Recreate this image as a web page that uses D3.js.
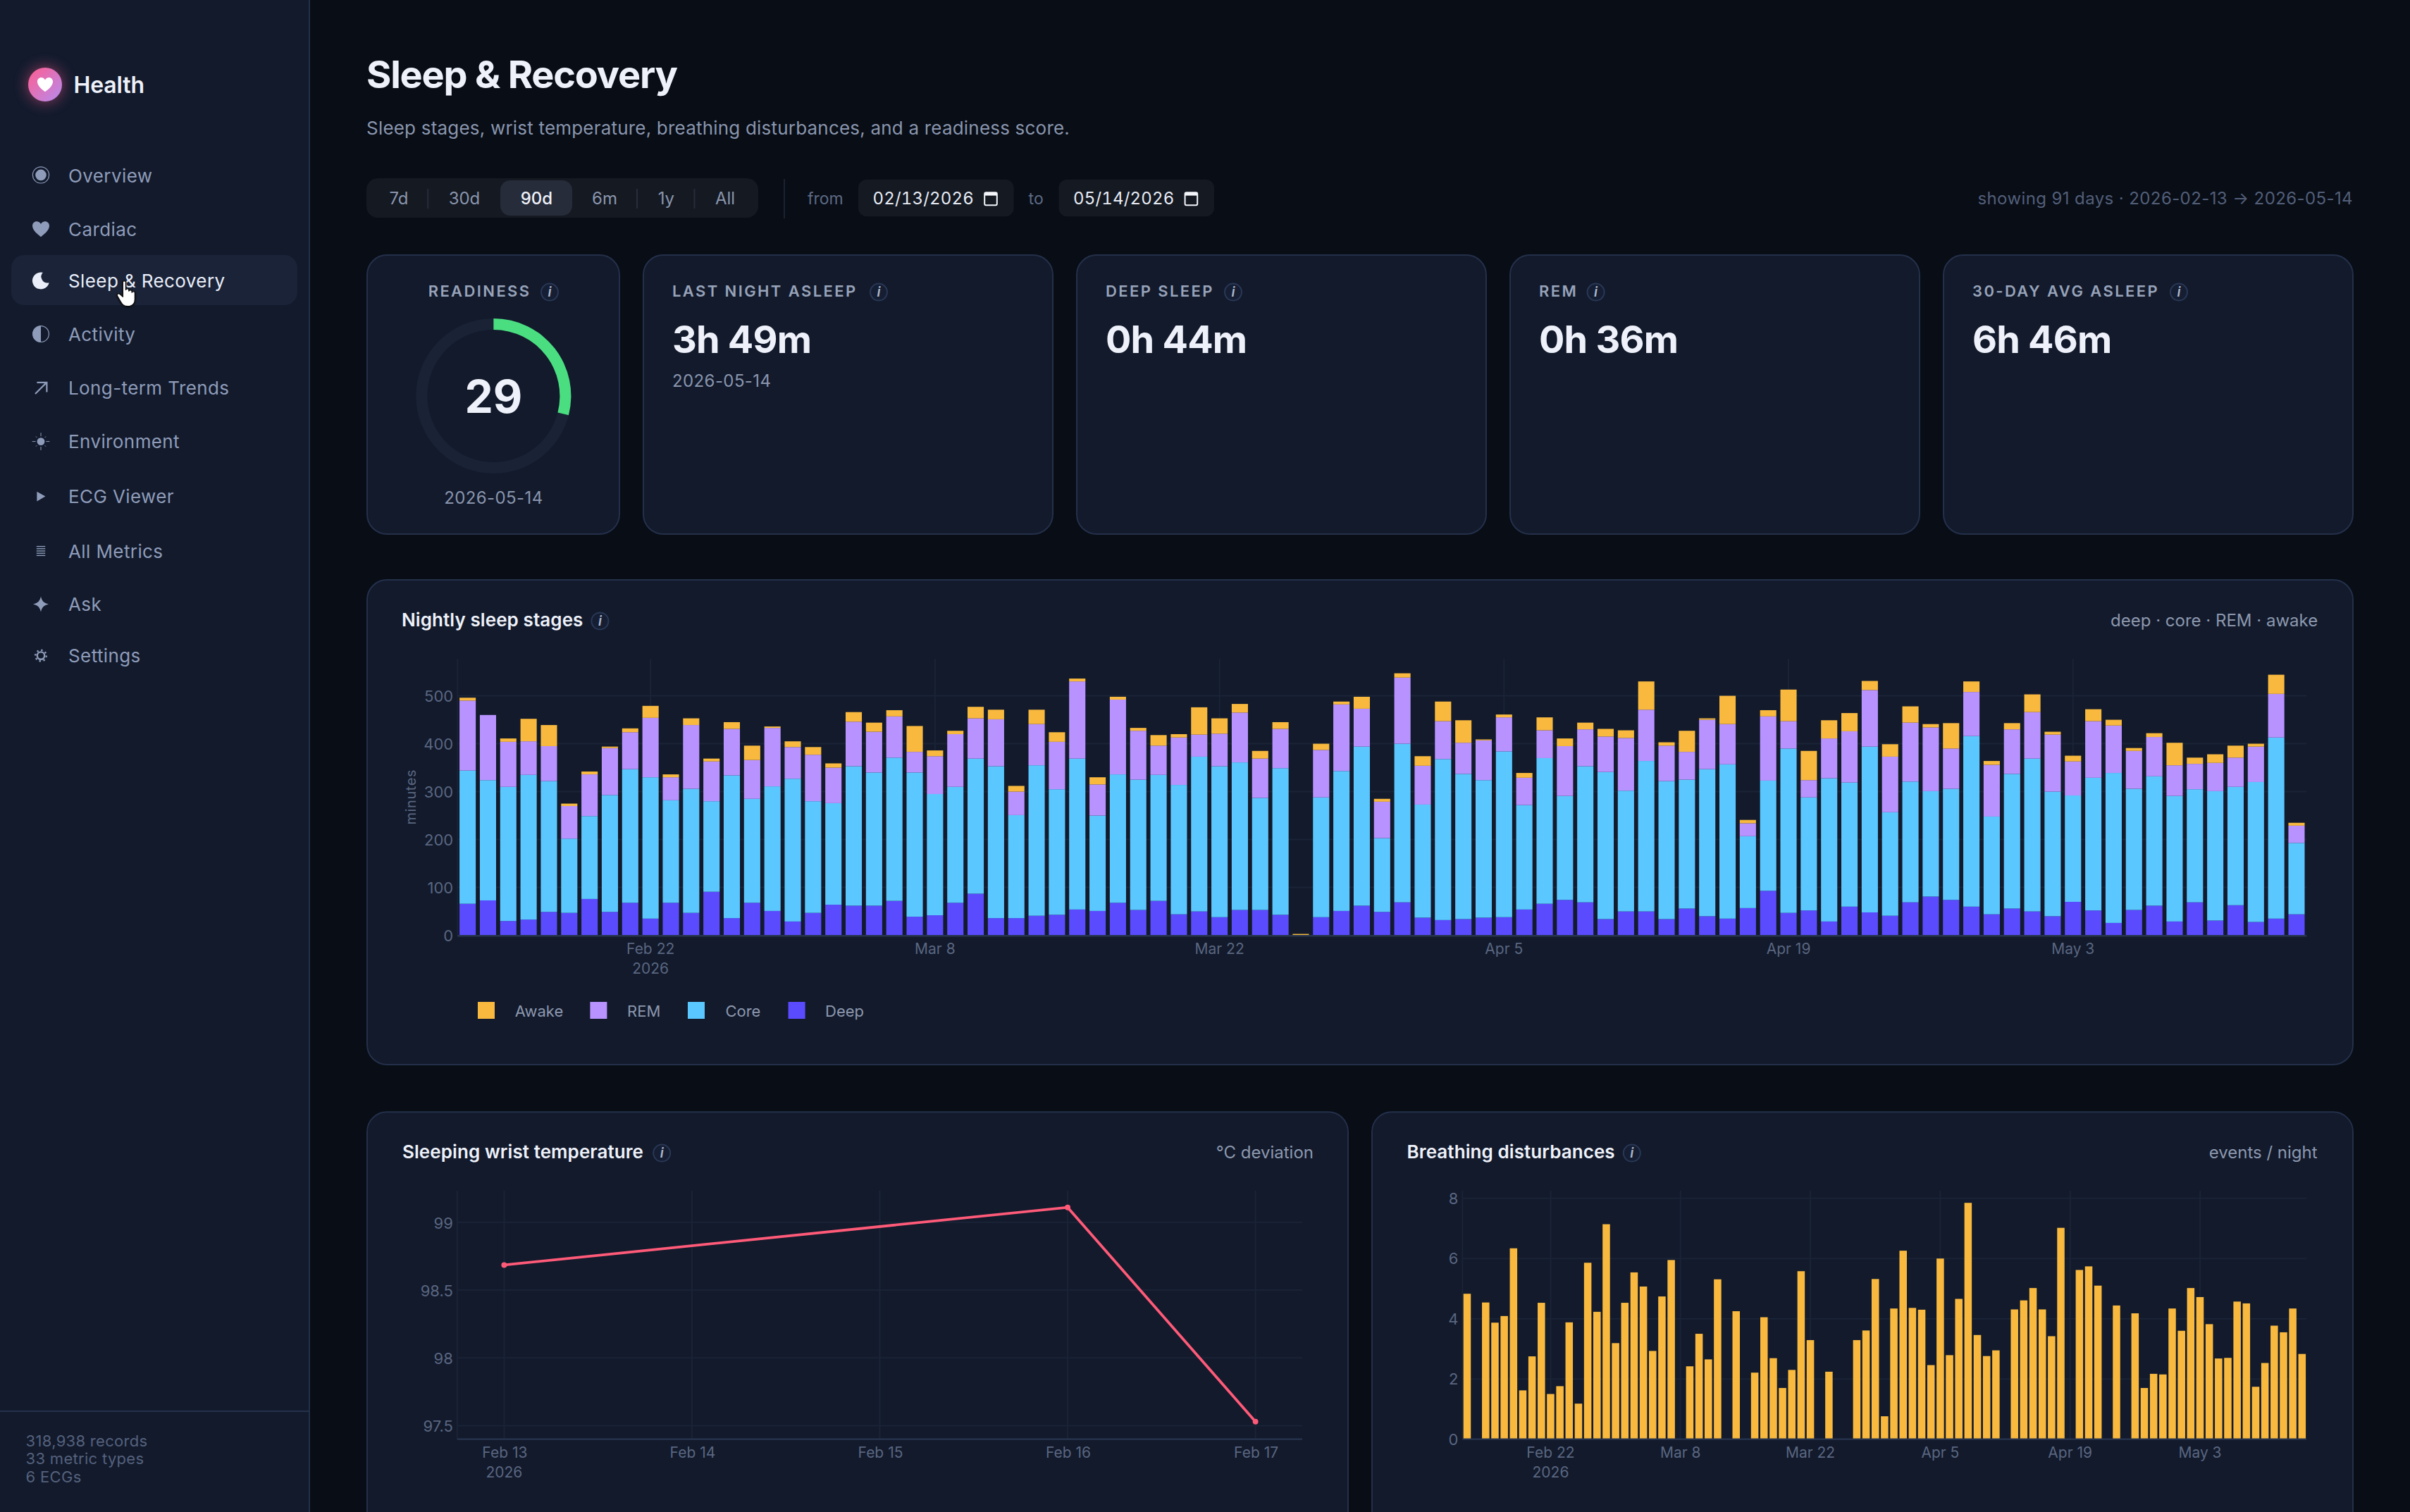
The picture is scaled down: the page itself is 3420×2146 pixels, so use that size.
<!DOCTYPE html>
<html><head><meta charset="utf-8"><title>Sleep &amp; Recovery</title>
<script src="https://cdn.jsdelivr.net/npm/d3@7"></script>
<style>html,body{margin:0;padding:0;background:#080d16;overflow:hidden}svg{display:block}text{font-family:Inter,"Noto Sans",sans-serif}</style>
</head><body>
<div id="root"></div>
<script>
// ---------- data ----------
const deep=[66,73,30,33,49,47,76,49,68,35,68,47,91,36,68,51,29,47,64,62,62,72,39,42,68,87,36,36,41,43,54,51,68,53,72,44,50,38,53,53,43,0,38,51,62,49,69,37,32,34,37,38,54,66,74,69,34,50,50,34,56,40,35,57,93,47,52,29,60,48,41,69,81,74,60,44,56,50,40,70,52,26,53,62,29,69,31,63,28,35,44];
const core=[278,251,280,302,273,155,173,244,279,295,214,259,189,298,217,260,298,233,212,291,278,299,301,253,242,282,317,215,314,262,315,199,268,272,263,270,323,315,308,234,306,0,250,292,332,154,331,236,336,303,287,346,218,304,217,284,307,252,314,288,269,307,322,150,230,343,236,299,259,346,216,252,220,232,356,204,281,319,260,222,277,313,253,270,262,236,270,247,292,378,149];
const rem=[146,136,94,70,73,68,87,98,77,124,48,133,83,97,81,122,66,97,74,93,85,86,43,79,110,84,98,49,86,99,161,65,156,102,61,99,46,68,104,82,82,0,99,139,79,76,138,81,79,65,83,71,57,58,104,77,74,110,107,74,58,103,84,27,134,57,36,83,107,118,116,123,133,84,92,108,93,97,119,71,118,99,79,82,64,53,59,61,74,91,36];
const awake=[6,0,7,47,44,5,6,3,8,25,6,14,6,14,30,3,12,16,9,20,19,13,54,12,7,24,20,12,30,20,6,15,6,6,22,7,57,32,18,16,14,3,13,6,25,6,9,20,41,47,2,6,10,27,16,14,16,16,59,7,44,3,59,7,13,66,61,38,38,19,26,34,7,53,22,8,13,37,6,12,25,12,6,8,47,13,18,25,6,40,6];
const breathing=[4.83,null,4.54,3.87,4.09,6.34,1.62,2.75,4.53,1.50,1.76,3.88,1.18,5.86,4.23,7.14,3.19,4.53,5.54,5.07,2.93,4.74,5.95,null,2.42,3.50,2.65,5.31,null,4.25,null,2.21,4.05,2.69,1.70,2.30,5.58,3.29,null,2.24,null,null,3.29,3.61,5.32,0.76,4.34,6.26,4.36,4.30,2.46,6.00,2.79,4.66,7.85,3.46,2.76,2.95,null,4.31,4.61,5.02,4.31,3.42,7.02,null,5.62,5.74,5.10,null,4.44,null,4.18,1.70,2.17,2.15,4.34,3.60,5.02,4.72,3.82,2.68,2.70,4.57,4.51,1.74,2.53,3.77,3.55,4.34,2.83];
const tempDates=["2026-02-13","2026-02-16","2026-02-17"];
const tempValues=[98.685,99.11,97.53];
const tempTickDates=["2026-02-13","2026-02-14","2026-02-15","2026-02-16","2026-02-17"];
const tempYTicks=[97.5,98,98.5,99];
const stageYTicks=[0,100,200,300,400,500];
const breathYTicks=[0,2,4,6,8];
const longTickDates=["2026-02-22","2026-03-08","2026-03-22","2026-04-05","2026-04-19","2026-05-03"];
const stageKeys=["deep","core","rem","awake"];
const stageColors=["#5b4bff","#5ac8ff","#b893ff","#f8b93e"];
const legendNames=["Awake","REM","Core","Deep"];
const legendColors=["#f8b93e","#b893ff","#5ac8ff","#5b4bff"];
const navLabels=["Overview","Cardiac","Sleep & Recovery","Activity","Long-term Trends","Environment","ECG Viewer","All Metrics","Ask","Settings"];
const rangeLabels=["7d","30d","90d","6m","1y","All"];
const kpiLabels=["LAST NIGHT ASLEEP","DEEP SLEEP","REM","30-DAY AVG ASLEEP"];
const kpiValues=["3h 49m","0h 44m","0h 36m","6h 46m"];
const readiness=29;

// ---------- palette ----------
const C={bg:"#080d16",panel:"#121a2c",border:"#24304a",grid:"#1a2436",axis:"#28354f",txt:"#eef1f9",nav:"#8f9cb9",mut:"#8d98ae",dim:"#5a6680"};

const svg=d3.select("#root").append("svg").attr("width",3420).attr("height",2146).attr("viewBox","0 0 1710 1073");
const defs=svg.append("defs");
const lg=defs.append("linearGradient").attr("id","logo").attr("x1",0).attr("y1",0).attr("x2",1).attr("y2",1);
lg.append("stop").attr("offset",0).attr("stop-color","#ff5d8f");
lg.append("stop").attr("offset",1).attr("stop-color","#b58cf0");
const glow=defs.append("filter").attr("id","glow").attr("x","-100%").attr("y","-100%").attr("width","300%").attr("height","300%");
glow.append("feGaussianBlur").attr("stdDeviation",5);
const shadow=defs.append("filter").attr("id","hs").attr("x","-50%").attr("y","-50%").attr("width","200%").attr("height","200%");
shadow.append("feDropShadow").attr("dx",0).attr("dy",0.6).attr("stdDeviation",0.8).attr("flood-color","#000").attr("flood-opacity",0.6);

function T(g,x,y,s,o={}){return g.append("text").attr("x",x).attr("y",y).text(s)
  .attr("font-size",o.size||12).attr("font-weight",o.weight||400).attr("fill",o.fill||C.mut)
  .attr("text-anchor",o.anchor||"start").attr("letter-spacing",o.ls||null).attr("font-family",o.family||null);}
function R(g,x,y,w,h,rx,fill,stroke){return g.append("rect").attr("x",x).attr("y",y).attr("width",w).attr("height",h).attr("rx",rx).attr("fill",fill).attr("stroke",stroke||"none");}
function info(g,cx,cy){g.append("circle").attr("cx",cx).attr("cy",cy).attr("r",6).attr("fill","#151e33").attr("stroke","#2a3856").attr("stroke-width",1);
  T(g,cx,cy+3.4,"i",{size:9.5,weight:600,anchor:"middle",fill:"#aeb8cc"}).attr("font-style","italic");}

svg.append("rect").attr("width",1710).attr("height",1073).attr("fill",C.bg);

// ---------- sidebar ----------
const side=svg.append("g");
side.append("rect").attr("width",220).attr("height",1073).attr("fill",C.panel);
side.append("line").attr("x1",219.5).attr("x2",219.5).attr("y1",0).attr("y2",1073).attr("stroke",C.border);
side.append("line").attr("x1",0).attr("x2",219).attr("y1",1001.5).attr("y2",1001.5).attr("stroke",C.border);
side.append("circle").attr("cx",32).attr("cy",60).attr("r",13).attr("fill","#ff5d8f").attr("opacity",0.45).attr("filter","url(#glow)");
side.append("circle").attr("cx",32).attr("cy",60).attr("r",12).attr("fill","url(#logo)");
const HEART="M0 5.6C-1.6 4.3-6 1.3-6-2.2C-6-4.2-4.5-5.4-3-5.4C-1.8-5.4-.6-4.8 0-3.5C.6-4.8 1.8-5.4 3-5.4C4.5-5.4 6-4.2 6-2.2C6 1.3 1.6 4.3 0 5.6Z";
side.append("path").attr("d",HEART).attr("transform","translate(32,60) scale(.92)").attr("fill","#fff");
T(side,52.3,66.2,"Health",{size:16,weight:600,fill:C.txt,ls:-.08});
R(side,8,181,203,35.5,9,"#1a2338");
const navBase=[129.5,167.3,204,241.9,279.8,317.8,357,395.8,433.3,470];
const navCy=[124.2,162.5,199.2,237,275.3,313.3,352.3,391,428.7,465.3];
navLabels.forEach((s,i)=>{
  const active=i===2, col=active?"#e9eef9":C.nav;
  T(side,48.5,navBase[i],s,{size:13,weight:400,fill:col,ls:.2});
  const g=side.append("g").attr("transform",`translate(29,${navCy[i]})`);
  if(i===0){g.append("circle").attr("r",5.8).attr("fill","none").attr("stroke",col).attr("stroke-width",.6);g.append("circle").attr("r",3.9).attr("fill",col);}
  if(i===1){g.append("path").attr("d",HEART).attr("fill",col);}
  if(i===2){g.append("path").attr("d","M1.4-5.8A6 6 0 1 0 5.8 1.4A4.4 4.4 0 0 1 1.4-5.8Z").attr("fill",col);}
  if(i===3){g.append("circle").attr("r",5.7).attr("fill","none").attr("stroke",col).attr("stroke-width",.6);g.append("path").attr("d","M0-5.8A5.8 5.8 0 0 0 0 5.8Z").attr("fill",col);}
  if(i===4){g.append("path").attr("d","M-4 4.2L3.8-3.6M-2.8-3.9H4.2V3").attr("fill","none").attr("stroke",col).attr("stroke-width",1.1);}
  if(i===5){g.append("circle").attr("r",2.7).attr("fill",col);
    d3.range(8).forEach(k=>{const a=k*Math.PI/4,r0=k%2?4:3.7,r1=k%2?5:6.2;g.append("line").attr("x1",r0*Math.cos(a)).attr("y1",r0*Math.sin(a)).attr("x2",r1*Math.cos(a)).attr("y2",r1*Math.sin(a)).attr("stroke",col).attr("stroke-width",.5);});}
  if(i===6){g.append("path").attr("d","M-2.8-3.4L3.2 0L-2.8 3.4Z").attr("fill",col);}
  if(i===7){[-3.2,-1.6,0,1.6,3.2].forEach(d=>g.append("line").attr("x1",-3.1).attr("x2",3.1).attr("y1",d).attr("y2",d).attr("stroke",col).attr("stroke-width",.7));}
  if(i===8){g.append("path").attr("d","M0-5.5C.9-2 2-.9 5.5 0C2 .9.9 2 0 5.5C-.9 2-2 .9-5.5 0C-2-.9-.9-2 0-5.5Z").attr("fill",col);}
  if(i===9){g.append("circle").attr("r",2.6).attr("fill","none").attr("stroke",col).attr("stroke-width",1.2);g.append("circle").attr("r",3.9).attr("fill","none").attr("stroke",col).attr("stroke-width",1.2).attr("stroke-dasharray","1.2 1.86");}
});
["318,938 records","33 metric types","6 ECGs"].forEach((s,i)=>T(side,18.3,[1026.3,1039,1052][i],s,{size:11,fill:"#55617c",ls:.15}));

// ---------- header ----------
const head=svg.append("g");
T(head,260,62.5,"Sleep & Recovery",{size:27,weight:700,fill:C.txt,ls:-.6});
T(head,260,95.7,"Sleep stages, wrist temperature, breathing disturbances, and a readiness score.",{size:13,fill:"#8a95ad",ls:.1});
R(head,260,126.5,278,28,8,"#141922");
R(head,355,128,51,25,7,"#272c3a");
const segCx=[283,329.5,380.7,429,472.7,514.5];
rangeLabels.forEach((s,i)=>T(head,segCx[i],145,s,{size:12,anchor:"middle",weight:i===2?500:400,fill:i===2?"#eef1f9":"#8a95ad"}));
[303.6,452,492.7].forEach(x=>head.append("line").attr("x1",x).attr("x2",x).attr("y1",134).attr("y2",148).attr("stroke","#262c3a"));
head.append("line").attr("x1",556.5).attr("x2",556.5).attr("y1",127).attr("y2",155).attr("stroke","#1c2330");
T(head,573,145,"from",{size:11.5,fill:"#5e6a84"});
T(head,729.8,145,"to",{size:11.5,fill:"#5e6a84"});
[[609,"02/13/2026"],[751.2,"05/14/2026"]].forEach(([x,s])=>{
  R(head,x,127.4,110.3,26.2,6,"#141922");
  T(head,x+10.3,145,s,{size:12,fill:"#e8ecf5",ls:.08}).style("font-variant-numeric","tabular-nums");
  const cx=x+94;
  R(head,cx-4.4,136.6,8.8,9,1,"none","#f3f5fa").attr("stroke-width",1);
  head.append("rect").attr("x",cx-4.4).attr("y",136.6).attr("width",8.8).attr("height",2.2).attr("fill","#f3f5fa");
});
T(head,1669.5,144.8,"showing 91 days · 2026-02-13 → 2026-05-14",{size:12,anchor:"end",fill:"#535f79",ls:.2});

// ---------- KPI cards ----------
const kpi=svg.append("g");
R(kpi,260.5,181,179,198,14,C.panel,C.border);
T(kpi,340.3,210.6,"READINESS",{size:11,weight:600,anchor:"middle",fill:"#98a3b9",ls:1.2});
info(kpi,390,207.3);
const gauge=kpi.append("g").attr("transform","translate(350.2,281)");
const arc=d3.arc().innerRadius(47).outerRadius(55).startAngle(0);
gauge.append("path").attr("d",arc({endAngle:2*Math.PI})).attr("fill","#1a2336");
gauge.append("path").attr("d",arc({endAngle:2*Math.PI*readiness/100})).attr("fill","#4ade80");
T(kpi,350.2,293,String(readiness),{size:32,weight:700,anchor:"middle",fill:C.txt});
T(kpi,350.2,357.7,"2026-05-14",{size:12,anchor:"middle",fill:"#8a95ad",ls:.2});
const kpiX=[456,763.5,1071,1378.5];
const kpiInfo=[623.5,875,1132.3,1546];
kpiLabels.forEach((s,i)=>{
  const x=kpiX[i];
  R(kpi,x+.5,181,290.5,198,14,C.panel,C.border);
  T(kpi,x+21,210.6,s,{size:11,weight:600,fill:"#98a3b9",ls:1.2});
  info(kpi,kpiInfo[i],207.3);
  T(kpi,x+21,250.6,kpiValues[i],{size:27,weight:700,fill:C.txt,ls:-.4});
});
T(kpi,477,274.7,"2026-05-14",{size:12,fill:"#8a95ad",ls:.2});

// ---------- panels ----------
function panel(x,y,w,h,title,infoX,right,rightX,titleX){
  const g=svg.append("g");
  R(g,x+.5,y+.5,w-1,h-1,14,C.panel,C.border);
  T(g,titleX,y+33.6,title,{size:13,weight:600,fill:"#eef1f9",ls:.04});
  info(g,infoX,y+29.7);
  T(g,rightX,y+33.3,right,{size:12,anchor:"end",fill:C.mut});
  return g;
}
function styleAxis(sel,size,fill){sel.select(".domain").remove();sel.selectAll("line").remove();
  sel.selectAll("text").attr("font-family","Inter").attr("font-size",size).attr("fill",fill);}
const parse=d3.utcParse("%Y-%m-%d");
const fmtMD=d3.utcFormat("%b %-d");
const days=d3.utcDay.range(parse("2026-02-13"),parse("2026-05-15"));

// nightly stages
{
  const g=panel(260,411,1410,345,"Nightly sleep stages",425.7,"deep · core · REM · awake",1644.6,285);
  const left=324.6,right=1636.7,top=467.6,base=663.8;
  const rows=days.map((d,i)=>({d,deep:deep[i],core:core[i],rem:rem[i],awake:awake[i]}));
  const x=d3.scaleBand().domain(days).range([left,right]).paddingInner(.2).paddingOuter(.1);
  const y=d3.scaleLinear().domain([0,577]).range([base,top]);
  const grid=g.append("g");
  grid.selectAll("line.h").data(stageYTicks.slice(1)).join("line").attr("x1",left).attr("x2",right).attr("y1",y).attr("y2",y).attr("stroke",C.grid);
  const lt=longTickDates.map(parse), cx=d=>x(d)+x.bandwidth()/2;
  grid.selectAll("line.v").data(lt).join("line").attr("x1",cx).attr("x2",cx).attr("y1",top).attr("y2",base).attr("stroke",C.grid);
  grid.append("line").attr("x1",left).attr("x2",left).attr("y1",top).attr("y2",base).attr("stroke",C.grid);
  const stack=d3.stack().keys(stageKeys)(rows);
  g.selectAll("g.s").data(stack).join("g").attr("fill",(d,i)=>stageColors[i])
    .selectAll("rect").data(d=>d).join("rect")
    .attr("x",d=>x(d.data.d)).attr("width",x.bandwidth())
    .attr("y",d=>y(d[1])).attr("height",d=>y(d[0])-y(d[1]));
  g.append("line").attr("x1",left).attr("x2",right).attr("y1",base+.3).attr("y2",base+.3).attr("stroke",C.axis).attr("stroke-width",1.2);
  const ay=g.append("g").attr("transform",`translate(${left-3},0)`).call(d3.axisLeft(y).tickValues(stageYTicks).tickSize(0).tickPadding(0));
  styleAxis(ay,11,C.dim); ay.selectAll("text").attr("dy","0.32em");
  const ax=g.append("g").attr("transform",`translate(0,${base+4})`).call(d3.axisBottom(x).tickValues(lt).tickSize(0).tickPadding(0).tickFormat(fmtMD));
  styleAxis(ax,10.5,C.dim); ax.selectAll("text").attr("y",9.2).attr("dy",0);
  T(g,cx(lt[0]),691,"2026",{size:10.5,anchor:"middle",fill:C.dim});
  g.append("text").attr("transform",`translate(295,565.6) rotate(-90)`).attr("text-anchor","middle").attr("font-size",10).attr("fill",C.dim).attr("letter-spacing",.3).text("minutes");
  const lx=[339,418.7,488,559.3], tx=[365.4,445,514.7,585.5];
  legendNames.forEach((s,i)=>{
    R(g,lx[i],711,12,12,0,legendColors[i]);
    T(g,tx[i],721.4,s,{size:11,fill:C.mut});
  });
}

// wrist temp
{
  const g=panel(260,788.6,697,302,"Sleeping wrist temperature",469.6,"°C deviation",932,285.5);
  const left=324.4,right=924,top=845,base=1021.3;
  const x=d3.scaleUtc().domain([parse(tempTickDates[0]),parse(tempTickDates[4])]).range([357.7,890.8]);
  const y=d3.scaleLinear().domain([97.5,99]).range([1011.7,867.4]);
  const grid=g.append("g");
  grid.selectAll("line.h").data(tempYTicks).join("line").attr("x1",left).attr("x2",right).attr("y1",y).attr("y2",y).attr("stroke",C.grid);
  const tt=tempTickDates.map(parse);
  grid.selectAll("line.v").data(tt).join("line").attr("x1",x).attr("x2",x).attr("y1",top).attr("y2",base).attr("stroke",C.grid);
  grid.append("line").attr("x1",left).attr("x2",left).attr("y1",top).attr("y2",base).attr("stroke",C.grid);
  g.append("line").attr("x1",left).attr("x2",right).attr("y1",base).attr("y2",base).attr("stroke",C.axis).attr("stroke-width",1.2);
  const pts=tempDates.map((d,i)=>[parse(d),tempValues[i]]);
  g.append("path").attr("d",d3.line().x(d=>x(d[0])).y(d=>y(d[1]))(pts)).attr("fill","none").attr("stroke","#ff5a78").attr("stroke-width",1.9);
  g.selectAll("circle.p").data(pts).join("circle").attr("cx",d=>x(d[0])).attr("cy",d=>y(d[1])).attr("r",2).attr("fill","#ff5a78");
  const ay=g.append("g").attr("transform",`translate(${left-3},0)`).call(d3.axisLeft(y).tickValues(tempYTicks).tickSize(0).tickPadding(0).tickFormat(d=>String(d)));
  styleAxis(ay,11,C.dim); ay.selectAll("text").attr("dy","0.36em");
  const ax=g.append("g").attr("transform",`translate(0,${base+4})`).call(d3.axisBottom(x).tickValues(tt).tickSize(0).tickPadding(0).tickFormat(fmtMD));
  styleAxis(ax,10.5,C.dim); ax.selectAll("text").attr("y",9).attr("dy",0);
  T(g,x(tt[0]),1048.3,"2026",{size:10.5,anchor:"middle",fill:C.dim});
}

// breathing
{
  const g=panel(973,788.6,697,302,"Breathing disturbances",1157.9,"events / night",1644.3,998.3);
  const left=1037.7,right=1636.7,top=845,base=1021.3;
  const x=d3.scaleBand().domain(days).range([left,right]).paddingInner(.2).paddingOuter(.1);
  const y=d3.scaleLinear().domain([0,8]).range([base,850.4]);
  const grid=g.append("g");
  grid.selectAll("line.h").data(breathYTicks.slice(1)).join("line").attr("x1",left).attr("x2",right).attr("y1",y).attr("y2",y).attr("stroke",C.grid);
  const lt=longTickDates.map(parse), cx=d=>x(d)+x.bandwidth()/2;
  grid.selectAll("line.v").data(lt).join("line").attr("x1",cx).attr("x2",cx).attr("y1",top).attr("y2",base).attr("stroke",C.grid);
  grid.append("line").attr("x1",left).attr("x2",left).attr("y1",top).attr("y2",base).attr("stroke",C.grid);
  const rows=days.map((d,i)=>({d,v:breathing[i]})).filter(r=>r.v!==null);
  g.selectAll("rect.b").data(rows).join("rect").attr("x",d=>x(d.d)).attr("width",x.bandwidth()).attr("y",d=>y(d.v)).attr("height",d=>y(0)-y(d.v)).attr("fill","#f8b93e");
  g.append("line").attr("x1",left).attr("x2",right).attr("y1",base).attr("y2",base).attr("stroke",C.axis).attr("stroke-width",1.2);
  const ay=g.append("g").attr("transform",`translate(${left-3},0)`).call(d3.axisLeft(y).tickValues(breathYTicks).tickSize(0).tickPadding(0));
  styleAxis(ay,11,C.dim); ay.selectAll("text").attr("dy","0.32em");
  const ax=g.append("g").attr("transform",`translate(0,${base+4})`).call(d3.axisBottom(x).tickValues(lt).tickSize(0).tickPadding(0).tickFormat(fmtMD));
  styleAxis(ax,10.5,C.dim); ax.selectAll("text").attr("y",9).attr("dy",0);
  T(g,cx(lt[0]),1048.3,"2026",{size:10.5,anchor:"middle",fill:C.dim});
}

// hand cursor
svg.append("path").attr("transform","translate(82.8,198.8) scale(.72,.62)")
  .attr("d","M6 2C6 .6 9 .6 9 2V11C9 9.5 12 9.5 12 11V12.5C12 11 15 11 15 12.5V14C15 12.8 18 12.8 18 14.2V22C18 26 16 30 11 30C7 30 5.5 28 4 25L.5 18C-.5 16 2 14.5 3.5 16.2L6 19Z")
  .attr("fill","#fff").attr("stroke","#111").attr("stroke-width",1.1).attr("stroke-linejoin","round").attr("filter","url(#hs)");
</script>
</body></html>
